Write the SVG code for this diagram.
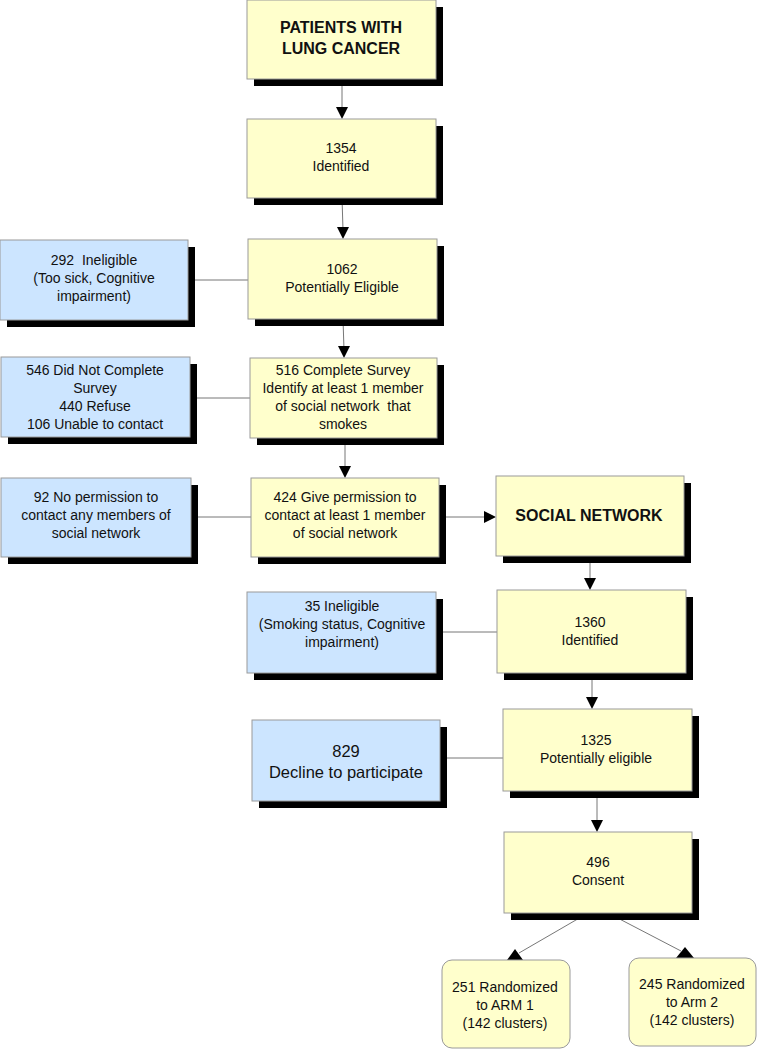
<svg xmlns="http://www.w3.org/2000/svg" width="757" height="1049" viewBox="0 0 757 1049">
<style>
.sh{fill:#000}
.y{fill:#FFFFCC;stroke:#9a9a9a;stroke-width:1}
.b{fill:#CCE5FF;stroke:#9a9a9a;stroke-width:1}
.r{fill:#FFFFCC;stroke:#9a9a9a;stroke-width:1}
text{font-family:"Liberation Sans",Arial,sans-serif;font-size:14px;fill:#111;text-anchor:middle;white-space:pre}
.t{font-weight:bold;font-size:16px}
.big{font-size:16.5px}
.c{stroke:#777;stroke-width:1;fill:none}
.ah{fill:#000}
</style>
<g id="connectors">
<line class="c" x1="342" y1="86" x2="342" y2="110"/>
<polygon class="ah" points="336,107 348,107 342,119"/>
<line class="c" x1="342" y1="198" x2="343" y2="230"/>
<polygon class="ah" points="337,227 349,227 343,239"/>
<line class="c" x1="343" y1="319" x2="344" y2="350"/>
<polygon class="ah" points="338,346 350,346 344,358"/>
<line class="c" x1="345" y1="438" x2="345" y2="470"/>
<polygon class="ah" points="339,466 351,466 345,478"/>
<line class="c" x1="439" y1="517" x2="486" y2="517"/>
<polygon class="ah" points="484,511 484,523 496,517"/>
<line class="c" x1="590" y1="556" x2="590" y2="582"/>
<polygon class="ah" points="584,578 596,578 590,590"/>
<line class="c" x1="592" y1="673" x2="592" y2="700"/>
<polygon class="ah" points="586,697 598,697 592,709"/>
<line class="c" x1="597" y1="791" x2="597" y2="824"/>
<polygon class="ah" points="591,820 603,820 597,832"/>
<line class="c" x1="588" y1="913" x2="519" y2="953"/>
<polygon class="ah" points="507,960 523,960 515,949"/>
<line class="c" x1="608" y1="913" x2="681" y2="951"/>
<polygon class="ah" points="676,958 694,958 685,947"/>
<line class="c" x1="188" y1="280" x2="248" y2="280"/>
<line class="c" x1="190" y1="398" x2="250" y2="398"/>
<line class="c" x1="191" y1="517" x2="251" y2="517"/>
<line class="c" x1="436" y1="632" x2="497" y2="632"/>
<line class="c" x1="440" y1="758" x2="503" y2="758"/>
</g>
<g id="n-patients">
<rect class="sh" x="254" y="7" width="189" height="79"/>
<rect class="y" x="247" y="0" width="189" height="79"/>
<text class="t" x="341" y="33">PATIENTS WITH</text>
<text class="t" x="341" y="54">LUNG CANCER</text>
</g>
<g id="n-1354">
<rect class="sh" x="254" y="126" width="189" height="79"/>
<rect class="y" x="247" y="119" width="189" height="79"/>
<text x="341" y="153">1354</text>
<text x="341" y="171">Identified</text>
</g>
<g id="n-292">
<rect class="sh" x="7" y="247" width="188" height="80"/>
<rect class="b" x="0" y="240" width="188" height="80"/>
<text x="94" y="265" xml:space="preserve">292  Ineligible</text>
<text x="94" y="283">(Too sick, Cognitive</text>
<text x="94" y="301">impairment)</text>
</g>
<g id="n-1062">
<rect class="sh" x="255" y="246" width="189" height="80"/>
<rect class="y" x="248" y="239" width="189" height="80"/>
<text x="342" y="274">1062</text>
<text x="342" y="292">Potentially Eligible</text>
</g>
<g id="n-546">
<rect class="sh" x="8" y="364" width="189" height="80"/>
<rect class="b" x="1" y="357" width="189" height="80"/>
<text x="95" y="375">546 Did Not Complete</text>
<text x="95" y="393">Survey</text>
<text x="95" y="411">440 Refuse</text>
<text x="95" y="429">106 Unable to contact</text>
</g>
<g id="n-516">
<rect class="sh" x="257" y="365" width="187" height="80"/>
<rect class="y" x="250" y="358" width="187" height="80"/>
<text x="343" y="375">516 Complete Survey</text>
<text x="343" y="393">Identify at least 1 member</text>
<text x="343" y="411" xml:space="preserve">of social network  that</text>
<text x="343" y="429">smokes</text>
</g>
<g id="n-92">
<rect class="sh" x="8" y="485" width="190" height="79"/>
<rect class="b" x="1" y="478" width="190" height="79"/>
<text x="96" y="502">92 No permission to</text>
<text x="96" y="520">contact any members of</text>
<text x="96" y="538">social network</text>
</g>
<g id="n-424">
<rect class="sh" x="258" y="485" width="188" height="79"/>
<rect class="y" x="251" y="478" width="188" height="79"/>
<text x="345" y="502">424 Give permission to</text>
<text x="345" y="520">contact at least 1 member</text>
<text x="345" y="538">of social network</text>
</g>
<g id="n-social">
<rect class="sh" x="503" y="483" width="188" height="80"/>
<rect class="y" x="496" y="476" width="188" height="80"/>
<text class="t" x="589" y="521">SOCIAL NETWORK</text>
</g>
<g id="n-35">
<rect class="sh" x="254" y="599" width="189" height="81"/>
<rect class="b" x="247" y="592" width="189" height="81"/>
<text x="342" y="611">35 Ineligible</text>
<text x="342" y="629">(Smoking status, Cognitive</text>
<text x="342" y="647">impairment)</text>
</g>
<g id="n-1360">
<rect class="sh" x="504" y="597" width="189" height="83"/>
<rect class="y" x="497" y="590" width="189" height="83"/>
<text x="590" y="627">1360</text>
<text x="590" y="645">Identified</text>
</g>
<g id="n-829">
<rect class="sh" x="259" y="727" width="188" height="81"/>
<rect class="b" x="252" y="720" width="188" height="81"/>
<text class="big" x="346" y="757">829</text>
<text class="big" x="346" y="778">Decline to participate</text>
</g>
<g id="n-1325">
<rect class="sh" x="510" y="716" width="189" height="82"/>
<rect class="y" x="503" y="709" width="189" height="82"/>
<text x="596" y="745">1325</text>
<text x="596" y="763">Potentially eligible</text>
</g>
<g id="n-496">
<rect class="sh" x="511" y="839" width="188" height="81"/>
<rect class="y" x="504" y="832" width="188" height="81"/>
<text x="598" y="867">496</text>
<text x="598" y="885">Consent</text>
</g>
<g id="n-arm1">
<rect class="r" x="442" y="960" width="128" height="88" rx="10" ry="10"/>
<text x="505" y="992">251 Randomized</text>
<text x="505" y="1010">to ARM 1</text>
<text x="505" y="1028">(142 clusters)</text>
</g>
<g id="n-arm2">
<rect class="r" x="629" y="958" width="127" height="88" rx="10" ry="10"/>
<text x="692" y="989">245 Randomized</text>
<text x="692" y="1007">to Arm 2</text>
<text x="692" y="1025">(142 clusters)</text>
</g>
</svg>
